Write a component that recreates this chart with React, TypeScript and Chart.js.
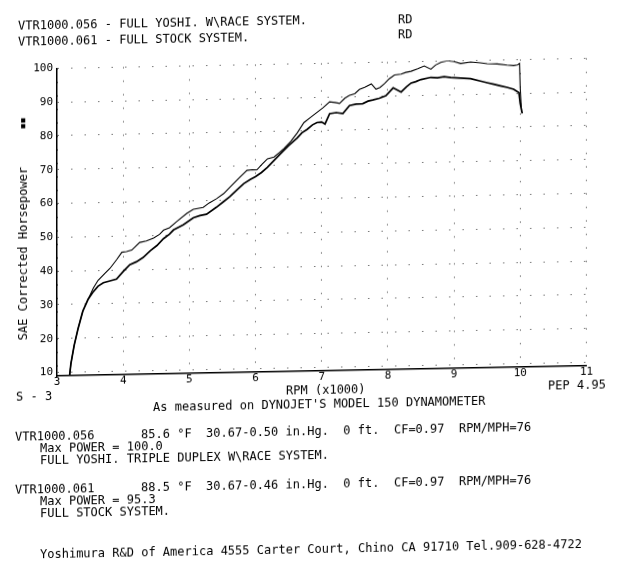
import React, { useEffect, useRef } from 'react';
import { Chart, registerables } from 'chart.js';

Chart.register(...registerables);

// RPM (x1000) and SAE corrected horsepower, run VTR1000.056 (full Yoshi)
const yoshiRpm = [
  3.19, 3.21, 3.26, 3.32, 3.39, 3.47, 3.55, 3.62, 3.72, 3.80,
  3.90, 3.98, 4.05, 4.13, 4.25, 4.35, 4.46, 4.55, 4.61, 4.70,
  4.81, 4.96, 5.06, 5.21, 5.30, 5.41, 5.52, 5.62, 5.75, 5.87,
  5.95, 6.02, 6.10, 6.18, 6.28, 6.36, 6.43, 6.53, 6.63, 6.73,
  6.83, 6.93, 7.02, 7.12, 7.20, 7.27, 7.35, 7.42, 7.50, 7.57,
  7.65, 7.75, 7.82, 7.88, 7.95, 8.02, 8.10, 8.20, 8.27, 8.35,
  8.45, 8.55, 8.65, 8.72, 8.80, 8.90, 9.00, 9.10, 9.25, 9.40,
  9.50, 9.65, 9.80, 9.90, 9.96, 9.99, 10.0, 10.02,
];
const yoshiHp = [
  9, 12.5, 18, 23, 28, 31.5, 34.8, 37, 39, 40.5,
  43, 45.2, 45.4, 45.8, 48, 48.4, 49.2, 50.3, 51.5, 52.2,
  54, 56.3, 57.5, 58, 59.3, 60.5, 62, 64, 66.5, 68.7,
  68.9, 68.8, 70.5, 72, 72.5, 73.8, 75, 77, 79.5, 82.5,
  84, 85.5, 86.8, 88.5, 88.3, 88, 89.5, 90.3, 90.8, 92,
  92.6, 93.6, 92, 92.5, 93.6, 95, 96.1, 96.3, 96.8, 97.1,
  97.8, 98.6, 97.6, 98.8, 99.6, 100, 99.7, 99.1, 99.5, 99.2,
  98.9, 98.8, 98.4, 98.2, 98.4, 98.8, 91.5, 84.5,
];

// Run VTR1000.061 (full stock)
const stockRpm = [
  3.19, 3.21, 3.26, 3.32, 3.39, 3.47, 3.54, 3.62, 3.70, 3.80,
  3.90, 4.00, 4.10, 4.20, 4.30, 4.41, 4.51, 4.61, 4.70, 4.76,
  4.91, 5.06, 5.16, 5.26, 5.41, 5.51, 5.61, 5.72, 5.82, 5.92,
  6.00, 6.09, 6.18, 6.28, 6.38, 6.50, 6.63, 6.70, 6.78, 6.86,
  6.93, 7.00, 7.05, 7.12, 7.22, 7.32, 7.42, 7.52, 7.62, 7.70,
  7.77, 7.87, 7.97, 8.08, 8.20, 8.28, 8.35, 8.42, 8.50, 8.65,
  8.75, 8.85, 8.95, 9.10, 9.25, 9.40, 9.50, 9.60, 9.70, 9.80,
  9.90, 9.98, 10.0, 10.03,
];
const stockHp = [
  9, 12.5, 18, 23, 28, 31.5, 33.5, 35.3, 36.3, 36.8,
  37.3, 39.5, 41.5, 42.3, 43.5, 45.5, 47, 49, 50.3, 51.5,
  53, 55, 55.6, 56, 58, 59.5, 61, 63, 64.8, 66,
  66.8, 68, 69.5, 71.5, 73.5, 75.8, 78, 79.5, 80.5, 81.8,
  82.5, 82.6, 82, 85, 85.3, 85, 87.3, 87.7, 87.8, 88.5,
  88.8, 89.3, 90, 92.3, 91, 92.5, 93.6, 94, 94.6, 95.2,
  95, 95.3, 95, 94.8, 94.6, 93.8, 93.3, 92.8, 92.3, 91.8,
  91.2, 90.2, 87, 84,
];

const rpmTicks = [3, 4, 5, 6, 7, 8, 9, 10, 11];
const hpTicks = [10, 20, 30, 40, 50, 60, 70, 80, 90, 100];

const MONO = '"DejaVu Sans Mono", "Liberation Mono", monospace';

function T({ x, y, children, size = 12 }: { x: number; y: number; children: React.ReactNode; size?: number }) {
  return (
    <div
      style={{
        position: 'absolute',
        left: x,
        top: y - 7,
        fontSize: size,
        lineHeight: '14px',
        whiteSpace: 'pre',
      }}
    >
      {children}
    </div>
  );
}

export default function App() {
  const ref = useRef<HTMLCanvasElement>(null);

  useEffect(() => {
    const canvas = ref.current;
    if (!canvas) return;
    const tickFont = { family: MONO, size: 11 };
    const chart = new Chart(canvas, {
      type: 'line',
      data: {
        datasets: [
          {
            label: 'VTR1000.056',
            data: yoshiRpm.map((x, i) => ({ x, y: yoshiHp[i] })),
            borderColor: '#000',
            borderWidth: 1.1,
            pointRadius: 0,
            tension: 0,
            fill: false,
          },
          {
            label: 'VTR1000.061',
            data: stockRpm.map((x, i) => ({ x, y: stockHp[i] })),
            borderColor: '#000',
            borderWidth: 1.7,
            pointRadius: 0,
            tension: 0,
            fill: false,
          },
        ],
      },
      options: {
        animation: false,
        responsive: false,
        maintainAspectRatio: false,
        layout: { padding: { left: 0, top: 69.3, right: 33.5, bottom: 181 } },
        plugins: {
          legend: { display: false },
          tooltip: { enabled: false },
          title: { display: false },
        },
        scales: {
          x: {
            type: 'linear',
            min: 3,
            max: 11,
            afterBuildTicks: (s: any) => {
              s.ticks = rpmTicks.map((v) => ({ value: v }));
            },
            afterFit: (s: any) => {
              s.height = 20;
            },
            ticks: { font: tickFont, color: '#000', padding: 0, autoSkip: false, maxRotation: 0 },
            grid: { drawTicks: false, color: '#777', lineWidth: 1 },
            border: { color: '#000', width: 1.5, dash: [1.5, 12] },
          },
          y: {
            type: 'linear',
            min: 9,
            max: 100,
            afterBuildTicks: (s: any) => {
              s.ticks = hpTicks.map((v) => ({ value: v }));
            },
            afterFit: (s: any) => {
              s.width = 57;
            },
            ticks: { font: tickFont, color: '#000', padding: 4, autoSkip: false },
            grid: { drawTicks: false, color: '#777', lineWidth: 1 },
            border: { color: '#000', width: 1.5, dash: [1.5, 12] },
          },
        },
      },
    } as any);
    return () => chart.destroy();
  }, []);

  return (
    <div
      style={{
        position: 'fixed',
        left: 0,
        top: 0,
        width: 620,
        height: 578,
        background: '#fff',
        color: '#000',
        fontFamily: MONO,
        transform: 'skewY(-1.09deg)',
        transformOrigin: '0 0',
        overflow: 'visible',
      }}
    >
      <canvas ref={ref} width={620} height={578} style={{ position: 'absolute', left: 0, top: 0, display: 'block' }} />

      <T x={18} y={25.5}>{'VTR1000.056 - FULL YOSHI. W\\RACE SYSTEM.'}</T>
      <T x={18} y={41.5}>{'VTR1000.061 - FULL STOCK SYSTEM.'}</T>
      <T x={398} y={26.5}>RD</T>
      <T x={398} y={41.5}>RD</T>

      <div
        style={{
          position: 'absolute',
          left: 23,
          top: 253.5,
          transform: 'translate(-50%, -50%) rotate(-90deg)',
          fontSize: 12,
          lineHeight: '14px',
          whiteSpace: 'pre',
        }}
      >
        SAE Corrected Horsepower
      </div>
      <div
        style={{
          position: 'absolute',
          left: 23,
          top: 123,
          transform: 'translate(-50%, -50%) rotate(-90deg)',
          fontSize: 7,
          lineHeight: '8px',
          letterSpacing: '1.5px',
          whiteSpace: 'pre',
        }}
      >
        ■■
      </div>

      <T x={286} y={396}>RPM (x1000)</T>
      <T x={16} y={396.5}>S - 3</T>
      <T x={548} y={396}>PEP 4.95</T>
      <T x={153} y={410}>{"As measured on DYNOJET'S MODEL 150 DYNAMOMETER"}</T>

      <T x={15} y={437}>VTR1000.056</T>
      <T x={141} y={437}>{'85.6 °F  30.67-0.50 in.Hg.  0 ft.  CF=0.97  RPM/MPH=76'}</T>
      <T x={40} y={449}>Max POWER = 100.0</T>
      <T x={40} y={461}>{'FULL YOSHI. TRIPLE DUPLEX W\\RACE SYSTEM.'}</T>

      <T x={15} y={489.5}>VTR1000.061</T>
      <T x={141} y={489.5}>{'88.5 °F  30.67-0.46 in.Hg.  0 ft.  CF=0.97  RPM/MPH=76'}</T>
      <T x={40} y={501.5}>Max POWER = 95.3</T>
      <T x={40} y={513.5}>FULL STOCK SYSTEM.</T>

      <T x={40} y={555}>Yoshimura R&D of America 4555 Carter Court, Chino CA 91710 Tel.909-628-4722</T>
    </div>
  );
}
